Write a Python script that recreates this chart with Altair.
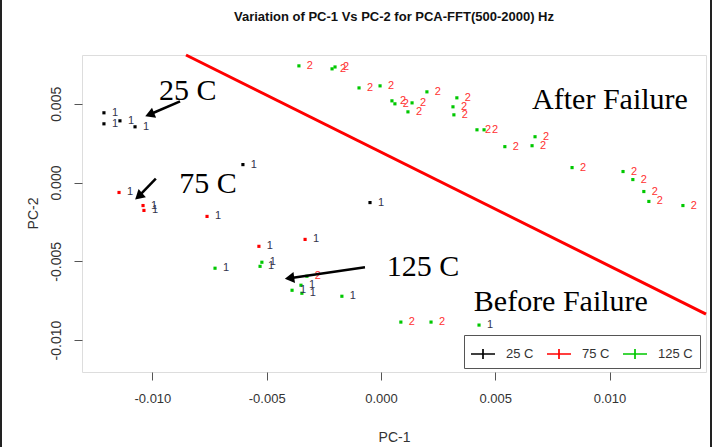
import altair as alt
import pandas as pd

# ---- data (PC-1, PC-2, class label) ----
pc1_25 = [-0.01212, -0.01212, -0.01142, -0.01076, -0.00604, -0.00048]
pc2_25 = [0.00443, 0.00373, 0.00392, 0.00354, 0.00114, -0.00127]
cls_25 = ["1", "1", "1", "1", "1", "1"]

pc1_75 = [-0.01146, -0.01041, -0.01037, -0.00761, -0.00534, -0.00332]
pc2_75 = [-0.00063, -0.00146, -0.00177, -0.00215, -0.00405, -0.00361]
cls_75 = ["1", "1", "1", "1", "1", "1"]

pc1_125 = [-0.00726, -0.00529, -0.00521, -0.00389, -0.00350, -0.00346, -0.00171, 0.00429,
           -0.00324, 0.00087, 0.00219,
           -0.00359, -0.00214, -0.00201, -0.00096, -0.00004, 0.00048, 0.00061, 0.00118,
           0.00136, 0.00201, 0.00332, 0.00315, 0.00319, 0.00420, 0.00451, 0.00542,
           0.00674, 0.00661, 0.00836, 0.01059, 0.01102, 0.01150, 0.01172, 0.01321]
pc2_125 = [-0.00544, -0.00532, -0.00506, -0.00684, -0.00652, -0.00703, -0.00722, -0.00905,
           -0.00595, -0.00886, -0.00886,
           0.00741, 0.00722, 0.00734, 0.00601, 0.00614, 0.00519, 0.00500, 0.00449,
           0.00506, 0.00576, 0.00538, 0.00481, 0.00430, 0.00335, 0.00335, 0.00228,
           0.00291, 0.00234, 0.00095, 0.00070, 0.00019, -0.00057, -0.00120, -0.00146]
cls_125 = ["1"] * 8 + ["2"] * 3 + ["2"] * 24

temps = ["25 C", "75 C", "125 C"]
temp_colors = ["#000000", "#ff0000", "#00c800"]

title_text = "Variation of PC-1 Vs PC-2 for PCA-FFT(500-2000) Hz"

# separating line (After / Before failure)
sep_x = [-0.00853]
sep_y = [0.0081]
sep_x2 = [0.01422]
sep_y2 = [-0.00835]

# annotation arrows (start -> tip) and arrow-head angle
arrow_x = [-0.00879, -0.00985, -0.00070]
arrow_y = [0.00515, 0.00025, -0.00538]
arrow_x2 = [-0.01005, -0.01055, -0.00385]
arrow_y2 = [0.00437, -0.00080, -0.00605]
head_x = [-0.01012, -0.01060, -0.00400]
head_y = [0.00432, -0.00087, -0.00607]
head_angle = [248, 228, 262]

# annotation texts
note_text = ["25 C", "75 C", "125 C", "After Failure", "Before Failure"]
note_x = [-0.00845, -0.00757, 0.00184, 0.01002, 0.00787]
note_y = [0.00580, -0.00010, -0.00538, 0.00525, -0.00760]

# ---- build tables ----
rows = []
for t, xs_, ys_, cs in [("25 C", pc1_25, pc2_25, cls_25),
                        ("75 C", pc1_75, pc2_75, cls_75),
                        ("125 C", pc1_125, pc2_125, cls_125)]:
    for a, b, c in zip(xs_, ys_, cs):
        rows.append({"pc1": a, "pc2": b, "cls": c, "temp": t})
df = pd.DataFrame(rows)

sep_df = pd.DataFrame({"x": sep_x, "y": sep_y, "x2": sep_x2, "y2": sep_y2})
arr_df = pd.DataFrame({"x": arrow_x, "y": arrow_y, "x2": arrow_x2, "y2": arrow_y2})
head_df = pd.DataFrame({"x": head_x, "y": head_y, "a": head_angle})
note_df = pd.DataFrame({"t": note_text, "x": note_x, "y": note_y})

XDOM = [-0.01308, 0.01422]
YDOM = [-0.01203, 0.0081]
xs = alt.Scale(domain=XDOM, nice=False, zero=False)
ys = alt.Scale(domain=YDOM, nice=False, zero=False)

lab_expr = "(datum.value < 0 ? '-' : '') + format(abs(datum.value), '.3f')"
FONT = "Liberation Sans"

x_axis = alt.Axis(values=[-0.01, -0.005, 0, 0.005, 0.01], labelExpr=lab_expr,
                  labelFontSize=13, labelFont=FONT, labelColor="#333333", labelPadding=12,
                  tickSize=8, tickColor="#555555", domain=False, grid=False,
                  title="PC-1", titleFont=FONT, titleFontSize=14, titleFontWeight="normal",
                  titleColor="#333333", titleY=65, titleBaseline="middle")
y_axis = alt.Axis(values=[-0.01, -0.005, 0, 0.005], labelExpr=lab_expr,
                  labelFontSize=14, labelFont=FONT, labelColor="#333333", labelPadding=11,
                  labelAngle=270, labelAlign="center", labelBaseline="bottom",
                  tickSize=8, tickColor="#555555", domain=False, grid=False,
                  title="PC-2", titleFont=FONT, titleFontSize=14, titleFontWeight="normal",
                  titleColor="#333333", titleAngle=270, titleX=-49, titleY=158,
                  titleBaseline="middle", titleAlign="center")

cross_path = "M-1,-0.07H1V0.07H-1Z M-0.07,-0.42H0.07V0.42H-0.07Z"

points = alt.Chart(df).mark_square(size=10, opacity=1).encode(
    x=alt.X("pc1:Q", scale=xs, axis=x_axis),
    y=alt.Y("pc2:Q", scale=ys, axis=y_axis),
    color=alt.Color("temp:N", scale=alt.Scale(domain=temps, range=temp_colors),
                    legend=alt.Legend(title=None, orient="none", legendX=382, legendY=280,
                                      direction="horizontal", symbolType=cross_path,
                                      symbolSize=576, symbolStrokeWidth=0,
                                      labelFont=FONT, labelFontSize=13, labelColor="#333333",
                                      labelOffset=11, columnPadding=13, padding=7,
                                      strokeColor="#555555", fillColor="white")),
)

labels = alt.Chart(df).mark_text(dx=11, fontSize=11, font=FONT, baseline="middle").encode(
    x=alt.X("pc1:Q", scale=xs),
    y=alt.Y("pc2:Q", scale=ys),
    text="cls:N",
    color=alt.condition("datum.cls == '2'", alt.value("#ff3030"), alt.value("#33334d")),
)

sep = alt.Chart(sep_df).mark_rule(color="#ff0000", strokeWidth=3).encode(
    x=alt.X("x:Q", scale=xs), y=alt.Y("y:Q", scale=ys), x2="x2:Q", y2="y2:Q")

arrows = alt.Chart(arr_df).mark_rule(color="black", strokeWidth=2.5).encode(
    x=alt.X("x:Q", scale=xs), y=alt.Y("y:Q", scale=ys), x2="x2:Q", y2="y2:Q")

heads = alt.Chart(head_df).mark_point(shape="triangle-up", filled=True, size=120,
                                       color="black", opacity=1).encode(
    x=alt.X("x:Q", scale=xs), y=alt.Y("y:Q", scale=ys), angle=alt.Angle("a:Q", scale=None))

notes = alt.Chart(note_df).mark_text(font="Liberation Serif", fontSize=30, color="black",
                                      baseline="middle", align="center").encode(
    x=alt.X("x:Q", scale=xs), y=alt.Y("y:Q", scale=ys), text="t:N")

one = pd.DataFrame({"t": [title_text]})
title_mark = alt.Chart(one).mark_text(font=FONT, fontSize=13, fontWeight="bold",
                                      color="#111111", align="center", baseline="middle").encode(
    x=alt.value(312), y=alt.value(-38), text="t:N")

frame_l = alt.Chart(one).mark_rule(color="#222222", strokeWidth=2).encode(
    x=alt.value(-81), y=alt.value(-55), y2=alt.value(392))
frame_r = alt.Chart(one).mark_rule(color="#222222", strokeWidth=2).encode(
    x=alt.value(629), y=alt.value(-55), y2=alt.value(392))

chart = alt.layer(sep, points, labels, arrows, heads, notes, title_mark, frame_l, frame_r).properties(
    width=624, height=317,
    padding={"left": 82, "top": 55, "right": 7, "bottom": 75},
    autosize=alt.AutoSizeParams(type="none"),
).configure_view(stroke="#444444", strokeWidth=1.5).configure(background="white")

chart.save("out.html", embed_options={"renderer": "svg", "actions": False})
